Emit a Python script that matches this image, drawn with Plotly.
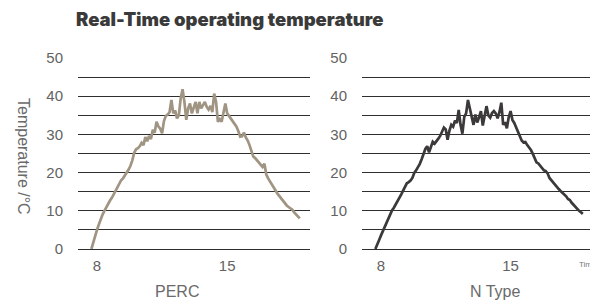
import plotly.graph_objects as go

time_h = [7.7, 7.8, 7.9, 8.0, 8.1, 8.2, 8.3, 8.4, 8.5, 8.6, 8.7, 8.8, 8.9,
          9.0, 9.1, 9.2, 9.3, 9.4, 9.5, 9.6, 9.7, 9.8, 9.9,
          10.0, 10.1, 10.2, 10.3, 10.4, 10.5, 10.6, 10.7, 10.8, 10.9,
          11.0, 11.1, 11.2, 11.3, 11.4, 11.5, 11.6, 11.7, 11.8, 11.9,
          12.0, 12.1, 12.2, 12.3, 12.4, 12.5, 12.6, 12.7, 12.8, 12.9,
          13.0, 13.1, 13.2, 13.3, 13.4, 13.5, 13.6, 13.7, 13.8, 13.9,
          14.0, 14.1, 14.2, 14.3, 14.4, 14.5, 14.6, 14.7, 14.8, 14.9,
          15.0, 15.1, 15.2, 15.3, 15.4, 15.5, 15.6, 15.7, 15.8, 15.9,
          16.0, 16.1, 16.2, 16.3, 16.4, 16.5, 16.6, 16.7, 16.8, 16.9,
          17.0, 17.1, 17.2, 17.3, 17.4, 17.5, 17.6, 17.7, 17.8, 17.9,
          18.0, 18.1, 18.2, 18.3, 18.4, 18.5, 18.6, 18.7, 18.8, 18.9]

perc_temp = [0.0, 1.8, 3.5, 5.0, 6.4, 7.8, 9.0, 10.0, 11.0, 11.9, 12.7, 13.4, 14.3,
             15.3, 16.3, 17.3, 18.0, 18.5, 19.2, 19.9, 20.8, 21.8, 23.2,
             25.2, 26.1, 26.4, 26.9, 27.8, 27.2, 29.3, 28.2, 29.6, 28.8,
             31.2, 30.4, 33.3, 32.1, 31.5, 30.3, 33.5, 34.8, 35.2, 35.8,
             39.0, 35.5, 36.3, 34.2, 35.0, 39.5, 41.8, 38.5, 33.8, 36.8,
             38.1, 35.5, 37.0, 38.5, 35.5, 38.5, 36.8, 37.5, 38.5, 37.2,
             36.5, 37.5, 35.8, 40.7, 38.5, 33.3, 34.0, 33.3, 35.5, 38.1,
             35.5, 34.8, 33.8, 33.3, 32.6, 32.0, 30.8, 29.4, 29.5, 30.5,
             29.2, 28.4, 27.2, 25.5, 24.2, 23.8, 23.2, 22.9, 22.0, 21.5,
             22.3, 19.5, 18.5, 17.6, 16.9, 16.2, 15.3, 14.5, 13.9, 13.2,
             12.5, 11.8, 11.4, 11.0, 10.7, 10.3, 9.6, 9.0, 8.4, 8.0]

ntype_temp = [0.0, 1.0, 2.3, 3.5, 4.6, 5.8, 7.0, 8.3, 9.3, 10.1, 10.8, 11.6, 12.4,
              13.4, 14.3, 15.3, 16.3, 17.2, 17.5, 17.9, 18.6, 19.9, 20.6,
              21.4, 22.3, 23.5, 25.0, 26.2, 26.9, 25.3, 26.7, 28.1, 27.6,
              28.4, 28.9, 29.6, 30.8, 31.8, 31.3, 28.6, 31.0, 32.5, 32.0,
              33.6, 33.0, 36.4, 32.5, 30.2, 34.6, 35.5, 39.0, 37.0, 35.0,
              32.5, 35.2, 33.1, 34.5, 36.1, 32.3, 35.0, 37.4, 35.0, 34.4,
              35.6, 36.1, 35.5, 34.2, 35.8, 38.3, 32.5, 33.2, 31.6, 34.5,
              36.1, 33.8, 33.0, 31.8, 30.6, 29.2, 28.4, 27.9, 28.0, 27.2,
              26.6, 25.9, 24.9, 23.6, 22.7, 22.4, 21.8, 21.2, 20.6, 20.4,
              19.8, 18.6, 18.0, 17.4, 16.6, 16.1, 15.7, 15.2, 14.7, 14.4,
              13.8, 13.1, 12.8, 12.1, 11.5, 11.0, 10.5, 10.0, 9.6, 9.2]

x_tick_vals = [8, 15]
x_tick_text = ["8", "15"]
y_tick_vals = [0, 10, 20, 30, 40, 50]
panel_names = ["PERC", "N Type"]
line_colors = ["#a09482", "#3c393a"]

# page body adds an 8px offset; size the figure to fill the remaining window
OFF = 8
W, H = 598 - OFF, 303 - OFF
FONT = "Liberation Sans, Arial, sans-serif"
TICK_COLOR = "#636363"
GRID_COLOR = "#2e2e2e"


def px(x):
    return (x - OFF) / W


def py(y):
    return 1 - (y - OFF) / H


fig = go.Figure()
fig.add_trace(go.Scatter(x=time_h, y=perc_temp, mode="lines",
                         line=dict(color=line_colors[0], width=2.7),
                         xaxis="x", yaxis="y", showlegend=False))
fig.add_trace(go.Scatter(x=time_h, y=ntype_temp, mode="lines",
                         line=dict(color=line_colors[1], width=2.7),
                         xaxis="x2", yaxis="y2", showlegend=False))


def xaxis(domain, anchor):
    return dict(domain=domain, anchor=anchor, range=[6.98, 19.45],
                tickvals=x_tick_vals, ticktext=x_tick_text,
                showgrid=False, zeroline=False, showline=False, ticks="",
                ticklabelstandoff=6, automargin=False,
                tickfont=dict(family=FONT, size=15, color=TICK_COLOR))


def yaxis(anchor):
    return dict(domain=[py(249), py(58)], anchor=anchor, range=[0, 50],
                tickvals=y_tick_vals, showgrid=True, gridcolor=GRID_COLOR,
                gridwidth=1, zeroline=True, zerolinecolor=GRID_COLOR,
                zerolinewidth=1, showline=False, ticks="",
                ticklabelstandoff=14, automargin=False,
                minor=dict(dtick=5, showgrid=True, gridcolor=GRID_COLOR,
                           gridwidth=1, ticks=""),
                tickfont=dict(family=FONT, size=15, color=TICK_COLOR))


fig.update_layout(
    width=W, height=H,
    margin=dict(l=0, r=0, t=0, b=0, autoexpand=False),
    paper_bgcolor="white", plot_bgcolor="white",
    xaxis=xaxis([px(78), px(310)], "y"),
    yaxis=yaxis("x"),
    xaxis2=xaxis([px(362), px(593)], "y2"),
    yaxis2=yaxis("x2"),
    showlegend=False,
)

annotations = [
    dict(text="Real-Time operating temperature", x=px(74), y=py(19),
         xref="paper", yref="paper", xanchor="left", yanchor="middle",
         showarrow=False,
         font=dict(family="Inter, Lato, sans-serif", size=18.5, color="#3a3a3a",
                   weight=900)),
    dict(text="Temperature /°C", x=px(24), y=py(156), xref="paper",
         yref="paper", xanchor="center", yanchor="middle", textangle=90,
         showarrow=False, font=dict(family=FONT, size=16, color="#6a6a6a")),
    dict(text=panel_names[0], x=px(177), y=py(291), xref="paper",
         yref="paper", xanchor="center", yanchor="middle", showarrow=False,
         font=dict(family=FONT, size=16, color="#6a6a6a")),
    dict(text=panel_names[1], x=px(495), y=py(291), xref="paper",
         yref="paper", xanchor="center", yanchor="middle", showarrow=False,
         font=dict(family=FONT, size=16, color="#6a6a6a")),
    dict(text="Tim", x=px(594), y=py(264), xref="paper", yref="paper",
         xanchor="right", yanchor="middle", showarrow=False,
         font=dict(family=FONT, size=8, color="#7a7a7a")),
]
fig.update_layout(annotations=annotations)

fig.write_html("out.html")
